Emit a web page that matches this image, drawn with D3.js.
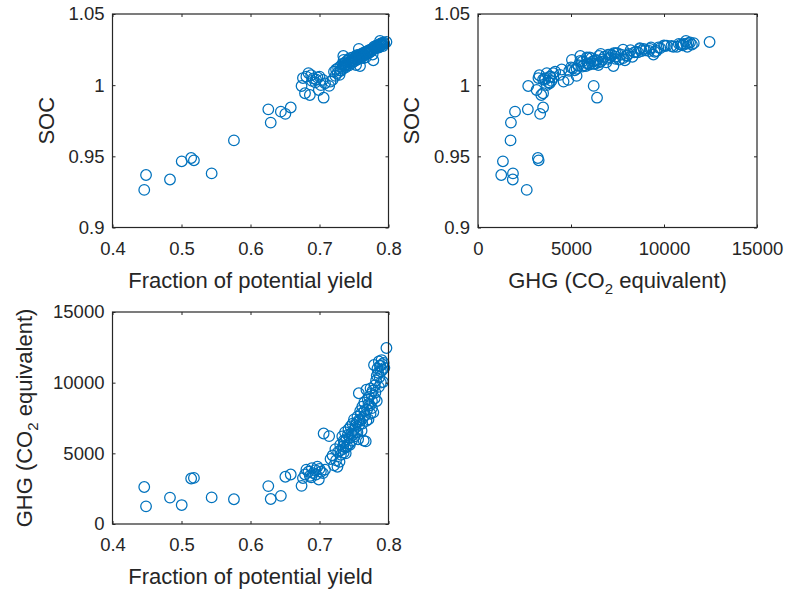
<!DOCTYPE html>
<html>
<head>
<meta charset="utf-8">
<script src="https://cdn.jsdelivr.net/npm/d3@7"></script>
<style>
  body { margin: 0; background: #ffffff; }
  svg { display: block; }
</style>
</head>
<body>
<svg id="fig" width="786" height="592"></svg>
<script>
// One observation per index: fraction of potential yield, soil organic carbon, greenhouse gas emissions
const yieldFrac = [
  0.446, 0.4486, 0.4833, 0.5003, 0.514, 0.518, 0.5437, 0.576, 0.6258, 0.6293, 0.644, 0.6505, 0.6583,
  0.674, 0.676, 0.679, 0.681, 0.684, 0.686, 0.689, 0.691, 0.694, 0.697, 0.700, 0.702, 0.705, 0.708, 0.699,
  0.706, 0.714,
  0.716, 0.719, 0.721, 0.723, 0.724, 0.726, 0.727, 0.729, 0.730, 0.731,
  0.733, 0.734, 0.7345, 0.735, 0.736, 0.737, 0.738, 0.739, 0.740, 0.741,
  0.742, 0.743, 0.744, 0.745, 0.746, 0.747, 0.748, 0.749, 0.750, 0.751,
  0.752, 0.753, 0.754, 0.755, 0.756, 0.757, 0.7575, 0.7587, 0.759, 0.760,
  0.761, 0.762, 0.763, 0.764, 0.765, 0.766, 0.767, 0.768, 0.769, 0.770,
  0.771, 0.772, 0.773, 0.774, 0.775, 0.776, 0.777, 0.778, 0.779, 0.780,
  0.781, 0.782, 0.783, 0.784, 0.785, 0.786, 0.787, 0.7877, 0.788, 0.789,
  0.790, 0.791, 0.792, 0.793, 0.797,
  0.738, 0.744, 0.748, 0.752, 0.755, 0.758, 0.762, 0.765, 0.768, 0.771,
  0.774, 0.776, 0.780, 0.783, 0.786, 0.789, 0.791, 0.794, 0.730, 0.735,
  0.688, 0.695
];
const soc = [
  0.9264, 0.9369, 0.9337, 0.9465, 0.9488, 0.9472, 0.938, 0.9612, 0.983, 0.9737, 0.9814, 0.9798, 0.9843,
  0.9994, 1.0050, 0.9943, 1.0060, 1.0085, 0.9931, 1.0030, 1.0048, 1.0020, 1.0055, 1.0060, 1.0000, 1.0037, 1.0013, 0.9966,
  0.9912, 0.9995,
  1.0025, 1.0037, 1.0095, 1.0065, 1.0110, 1.0085, 1.0120, 1.0072, 1.0130, 1.0100,
  1.0150, 1.0115, 1.0205, 1.0178, 1.0135, 1.0160, 1.0125, 1.0145, 1.0170, 1.0150,
  1.0180, 1.0140, 1.0190, 1.0160, 1.0175, 1.0155, 1.0195, 1.0165, 1.0185, 1.0170,
  1.0200, 1.0142, 1.0210, 1.0180, 1.0195, 1.0255, 1.0215, 1.0135, 1.0205, 1.0190,
  1.0220, 1.0200, 1.0225, 1.0190, 1.0230, 1.0215, 1.0195, 1.0235, 1.0220, 1.0240,
  1.0225, 1.0245, 1.0230, 1.0250, 1.0240, 1.0255, 1.0215, 1.0175, 1.0270, 1.0260,
  1.0265, 1.0278, 1.0260, 1.0280, 1.0270, 1.0285, 1.0275, 1.0310, 1.0290, 1.0280,
  1.0295, 1.0285, 1.0275, 1.0300, 1.0303,
  1.0140, 1.0165, 1.0175, 1.0185, 1.0205, 1.0200, 1.0215, 1.0210, 1.0225, 1.0235,
  1.0240, 1.0245, 1.0255, 1.0270, 1.0265, 1.0290, 1.0295, 1.0290, 1.0105, 1.0150,
  1.0070, 1.0040
];
const ghg = [
  2620, 1250, 1870, 1340, 3220, 3260, 1880, 1750, 2680, 1770, 1990, 3340, 3500,
  2700, 3250, 3500, 3850, 3700, 3400, 3950, 3600, 3800, 4050, 3900, 3700, 3600, 3850, 3150,
  6400, 6220,
  4600, 4850, 4150, 5300, 4500, 4050, 5100, 4400, 5600, 4900,
  6200, 5300, 5500, 5050, 5800, 6500, 5000, 6000, 5500, 6300,
  6700, 5700, 6100, 6900, 6400, 5900, 7100, 6600, 7400, 6200,
  6800, 6470, 7200, 7600, 6000, 9250, 7000, 7280, 8000, 7800,
  6600, 8300, 7500, 5900, 8600, 7700, 5850, 9500, 8100, 8800,
  7400, 9000, 8400, 7800, 9200, 8700, 9430, 7900, 11250, 9800,
  9300, 10150, 8700, 11000, 10700, 11500, 10400, 11180, 11200, 10000,
  11600, 10900, 10050, 11400, 12450,
  5400, 5600, 6300, 7000, 6500, 7400, 7100, 8000, 7300, 8500,
  9600, 8200, 8900, 10500, 9700, 10800, 11300, 11050, 5200, 5900,
  3300, 3500
];

// Axis ticks
const yieldTicks = [0.4, 0.5, 0.6, 0.7, 0.8];
const socTicks = [0.9, 0.95, 1, 1.05];
const ghgTicks = [0, 5000, 10000, 15000];

// Axis titles (segments; "sub" marks a subscript)
const yieldTitle = [{ t: "Fraction of potential yield" }];
const socTitle = [{ t: "SOC" }];
const ghgTitle = [{ t: "GHG (CO" }, { t: "2", sub: true }, { t: " equivalent)" }];

const FONT = "'Liberation Sans', Arial, Helvetica, sans-serif";
const INK = "#262626";
const BLUE = "#0072BD";
const TICK_FS = 18.5;
const TITLE_FS = 22;

const svg = d3.select("#fig");

const panels = [
  { box: [112.5, 14, 388.5, 227.5], xv: yieldFrac, yv: soc, xdom: [0.4, 0.8], ydom: [0.9, 1.05],
    xt: yieldTicks, yt: socTicks, xtitle: yieldTitle, ytitle: socTitle, yTitleOff: 59 },
  { box: [478, 14, 757, 227.5], xv: ghg, yv: soc, xdom: [0, 15000], ydom: [0.9, 1.05],
    xt: ghgTicks, yt: socTicks, xtitle: ghgTitle, ytitle: socTitle, yTitleOff: 59 },
  { box: [112.5, 312, 388.5, 524], xv: yieldFrac, yv: ghg, xdom: [0.4, 0.8], ydom: [0, 15000],
    xt: yieldTicks, yt: ghgTicks, xtitle: yieldTitle, ytitle: ghgTitle, yTitleOff: 81 }
];

const fmt = d => String(+d.toFixed(2));

function writeTitle(textSel, parts) {
  parts.forEach((p, i) => {
    const ts = textSel.append("tspan").text(p.t);
    if (p.sub) ts.attr("font-size", 15).attr("dy", 6);
    else if (i > 0 && parts[i - 1].sub) ts.attr("dy", -6);
  });
}

function styleAxis(g) {
  g.select(".domain").remove();
  g.selectAll(".tick line").attr("stroke", INK).attr("stroke-width", 1);
  g.selectAll(".tick text")
    .attr("fill", INK)
    .attr("font-family", FONT)
    .attr("font-size", TICK_FS);
}

panels.forEach(p => {
  const [x0, y0, x1, y1] = p.box;
  const x = d3.scaleLinear().domain(p.xdom).range([x0, x1]);
  const y = d3.scaleLinear().domain(p.ydom).range([y1, y0]);
  const g = svg.append("g");

  // Markers
  g.append("g")
    .selectAll("circle")
    .data(d3.range(p.xv.length))
    .join("circle")
    .attr("cx", i => x(p.xv[i]))
    .attr("cy", i => y(p.yv[i]))
    .attr("r", 5.3)
    .attr("fill", "none")
    .attr("stroke", BLUE)
    .attr("stroke-width", 1.25);

  // Labelled axes (bottom / left) with inward ticks
  g.append("g").attr("transform", `translate(0,${y1})`)
    .call(d3.axisBottom(x).tickValues(p.xt).tickSize(-3).tickPadding(14).tickFormat(fmt))
    .call(styleAxis);
  g.append("g").attr("transform", `translate(${x0},0)`)
    .call(d3.axisLeft(y).tickValues(p.yt).tickSize(-3).tickPadding(8).tickFormat(fmt))
    .call(styleAxis);

  // Mirror ticks on top / right
  g.append("g").attr("transform", `translate(0,${y0})`)
    .call(d3.axisTop(x).tickValues(p.xt).tickSize(-3).tickFormat(""))
    .call(styleAxis);
  g.append("g").attr("transform", `translate(${x1},0)`)
    .call(d3.axisRight(y).tickValues(p.yt).tickSize(-3).tickFormat(""))
    .call(styleAxis);

  // Box
  g.append("rect")
    .attr("x", x0).attr("y", y0)
    .attr("width", x1 - x0).attr("height", y1 - y0)
    .attr("fill", "none").attr("stroke", INK).attr("stroke-width", 1.2);

  // Axis titles
  const xt = g.append("text")
    .attr("x", (x0 + x1) / 2).attr("y", y1 + 60)
    .attr("text-anchor", "middle")
    .attr("fill", INK).attr("font-family", FONT).attr("font-size", TITLE_FS);
  writeTitle(xt, p.xtitle);

  const yt = g.append("text")
    .attr("transform", `translate(${x0 - p.yTitleOff},${(y0 + y1) / 2}) rotate(-90)`)
    .attr("text-anchor", "middle")
    .attr("fill", INK).attr("font-family", FONT).attr("font-size", TITLE_FS);
  writeTitle(yt, p.ytitle);
});
</script>
</body>
</html>
